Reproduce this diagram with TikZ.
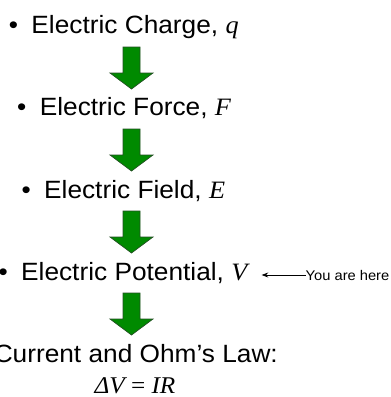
\documentclass[tikz,border=0pt]{standalone}
\usepackage{fontspec}
\setmainfont[FakeStretch=1.05]{Liberation Sans}
\newfontfamily\serif[FakeStretch=1.05]{Liberation Serif}
\usetikzlibrary{arrows.meta}
\definecolor{arrowgreen}{RGB}{0,138,0}
\definecolor{arrowedge}{RGB}{35,80,35}
\tikzset{
  item/.style={anchor=base west, inner sep=0pt, font=\fontsize{25}{30}\selectfont},
  blockarrow/.style={fill=arrowgreen, draw=arrowedge, line width=0.7pt, line join=miter},
  downarrow/.pic={\path[blockarrow] (-8.5,0) -- (8.5,0) -- (8.5,26) -- (21.5,26) -- (0,42) -- (-21.5,26) -- (-8.5,26) -- cycle;},
  note/.style={anchor=base west, inner sep=0pt, font=\fontsize{14}{16}\selectfont},
  pointer/.style={-{Stealth[length=6.5pt,width=5pt]}, line width=0.8pt}
}
\newcommand{\bul}{\llap{\textbullet\hspace{13.5pt}}}
\begin{document}
\begin{tikzpicture}[x=1pt,y=-1pt]
\useasboundingbox (0,0) rectangle (391,397);
\node[item] (charge) at (31.3,33) {\bul Electric Charge, {\serif\itshape q}};
\pic (a1) at (131.5,47) {downarrow};
\node[item] (force) at (39.7,115.5) {\bul Electric Force, {\serif\itshape F}};
\pic (a2) at (131.5,129) {downarrow};
\node[item] (field) at (44,198) {\bul Electric Field, {\serif\itshape E}};
\pic (a3) at (131.5,211) {downarrow};
\node[item] (potential) at (21,280) {\bul Electric Potential, {\serif\itshape V}};
\pic (a4) at (131.5,293) {downarrow};
\node[item, anchor=base east] (current) at (278,362) {Current and Ohm’s Law:};
\node[item, anchor=base, text depth=0pt, font=\fontsize{24}{28}\selectfont] (ohm) at (135,393) {\serif\itshape ΔV {\upshape =} IR};
\node[note] (here) at (305.5,280) {You are here};
\coordinate (tip) at (261.7,275.7);
\draw[pointer] (here.west) -- (tip |- here.west);
\end{tikzpicture}
\end{document}
